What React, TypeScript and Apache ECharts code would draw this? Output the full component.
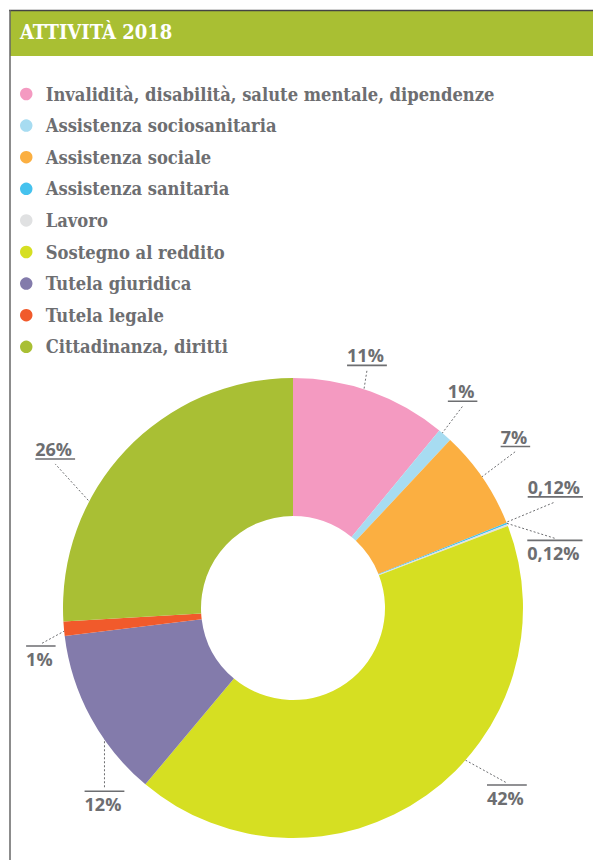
import React, { useEffect, useRef } from 'react';
import * as echarts from 'echarts';

// ---- data ----
const categories = [
  'Invalidità, disabilità, salute mentale, dipendenze',
  'Assistenza sociosanitaria',
  'Assistenza sociale',
  'Assistenza sanitaria',
  'Lavoro',
  'Sostegno al reddito',
  'Tutela giuridica',
  'Tutela legale',
  'Cittadinanza, diritti',
];
const shares = [11, 1, 7, 0.12, 0.12, 42, 12, 1, 26];
const title = 'ATTIVITÀ 2018';

// ---- styles ----
const colors = ['#F49AC1', '#A7DCF1', '#FBAF41', '#45C2EE', '#E0E1E2', '#D6DF22', '#837BAB', '#F15A2B', '#A9BF34'];
const gray = '#6D6E71';
// leader line start / end offsets relative to the library's label anchor point
const leaderStart = [[-3, -2], [3, -7], [-4, 2], [19, -9], [18, -9], [5, -44], [-4, 5], [-12, 0], [-25, 66]];
const leaderEnd = [[3, -40], [31, -44], [49, -38], [67, -29], [66, 6], [92, 4], [-4, 81], [-43, 17], [-85, 0]];
const textAbove = [true, true, true, true, false, false, false, false, true];

export default function App() {
  const ref = useRef<HTMLDivElement>(null);
  useEffect(() => {
    if (!ref.current) return;
    const chart = echarts.init(ref.current, null, { renderer: 'svg' });
    const data = categories.map((name, i) => ({ name, value: shares[i], itemStyle: { color: colors[i] } }));
    chart.setOption({
      animation: false,
      backgroundColor: '#ffffff',
      title: {
        text: title,
        left: 20,
        top: 22,
        padding: 0,
        textStyle: { color: '#ffffff', fontFamily: 'DejaVu Serif Condensed', fontWeight: 'bold', fontSize: 20 },
      },
      graphic: [
        { type: 'rect', z: -1, shape: { x: 10, y: 11, width: 583, height: 45 }, style: { fill: '#A9BF33' } },
        { type: 'line', z: 1, shape: { x1: 9, y1: 10.5, x2: 593, y2: 10.5 }, style: { stroke: '#444', lineWidth: 1.5 } },
        { type: 'line', z: 1, shape: { x1: 10, y1: 10, x2: 10, y2: 860 }, style: { stroke: '#666', lineWidth: 1.5 } },
      ],
      legend: {
        orient: 'vertical',
        left: 15,
        top: 79,
        itemWidth: 29,
        itemHeight: 12.5,
        itemGap: 11.6,
        icon: 'circle',
        selectedMode: false,
        data: categories,
        textStyle: { fontFamily: 'DejaVu Serif Condensed', fontWeight: 'bold', fontSize: 18.2, color: gray, lineHeight: 20 },
      },
      series: [
        {
          type: 'pie',
          center: [293, 608],
          radius: [92, 230],
          startAngle: 90,
          clockwise: true,
          silent: true,
          label: { show: false },
          labelLine: { show: false },
          emphasis: { disabled: true },
          data,
        },
        {
          type: 'pie',
          center: [293, 608],
          radius: [0, 210],
          startAngle: 90,
          clockwise: true,
          silent: true,
          avoidLabelOverlap: false,
          itemStyle: { color: 'rgba(0,0,0,0)' },
          emphasis: { disabled: true },
          label: {
            show: true,
            position: 'outside',
            formatter: (p: any) => {
              const t = String(p.value).replace('.', ',') + '%';
              return textAbove[p.dataIndex] ? `{t|${t}}\n{hrA|}` : `{hrB|}\n{t|${t}}`;
            },
            rich: {
              t: { fontFamily: 'Open Sans', fontWeight: 'bold', fontSize: 18, color: gray, lineHeight: 18, padding: [0, 3, 0, 0] },
              hrA: { width: '100%', height: 0, borderWidth: 1.6, borderColor: gray, lineHeight: 2 },
              hrB: { width: '100%', height: 0, borderWidth: 1.6, borderColor: gray, lineHeight: 8 },
            },
          },
          labelLine: { show: true, length: 20, length2: 10, lineStyle: { color: gray, width: 1, type: [2, 2] } },
          labelLayout: (params: any) => {
            const i = params.dataIndex;
            const pts = params.labelLinePoints;
            const r = params.labelRect;
            if (!pts || !pts[0] || !r) return {};
            const p0 = pts[0];
            const s = [p0[0] + leaderStart[i][0], p0[1] + leaderStart[i][1]];
            const e = [p0[0] + leaderEnd[i][0], p0[1] + leaderEnd[i][1]];
            const cx = r.x + r.width / 2;
            const edgeY = textAbove[i] ? r.y + r.height : r.y;
            const wantY = textAbove[i] ? e[1] + 1 : e[1] - 4;
            return {
              dx: e[0] - cx,
              dy: wantY - edgeY,
              labelLinePoints: [s, e, e],
            };
          },
          data: categories.map((name, i) => ({ name, value: shares[i] })),
        },
      ],
    });
    return () => chart.dispose();
  }, []);
  return <div ref={ref} style={{ position: 'absolute', left: 0, top: 0, width: 593, height: 860 }} />;
}
